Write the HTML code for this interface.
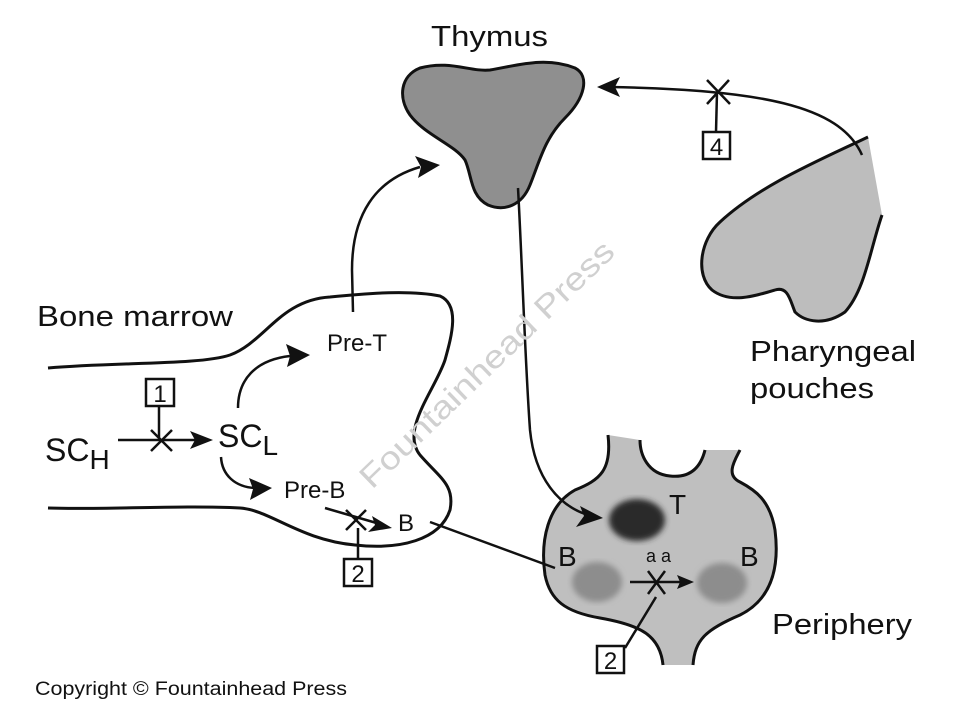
<!DOCTYPE html>
<html><head><meta charset="utf-8"><style>
html,body{margin:0;padding:0;background:#fff;}
svg{display:block;}
text{font-family:"Liberation Sans",sans-serif;fill:#111;}
</style></head><body>
<svg width="960" height="720" viewBox="0 0 960 720" xmlns="http://www.w3.org/2000/svg">
<defs>
<filter id="blur"><feGaussianBlur stdDeviation="3"/></filter>
</defs>

<text x="431" y="46" font-size="29" textLength="117" lengthAdjust="spacingAndGlyphs">Thymus</text>

<!-- Thymus -->
<path d="M420,68 C450,60 470,72 490,70 C515,66 545,56 575,68 C590,76 585,98 565,118 C545,138 540,160 530,185 C522,205 505,212 488,205 C470,196 472,175 465,160 C455,145 425,135 410,115 C398,98 400,76 420,68 Z" fill="#8f8f8f" stroke="#111" stroke-width="3"/>

<!-- Pharyngeal pouch -->
<path d="M868,137 L882,215 C870,250 865,290 845,312 C825,326 805,322 795,312 C790,300 788,286 775,290 C755,296 730,304 712,290 C695,275 700,240 720,222 C760,185 820,160 868,137 Z" fill="#bdbdbd"/>
<path d="M868,137 C820,160 760,185 720,222 C700,240 695,275 712,290 C730,304 755,296 775,290 C788,286 790,300 795,312 C805,322 825,326 845,312 C865,290 870,250 882,215" fill="none" stroke="#111" stroke-width="3"/>

<path d="M862,155 C840,105 760,90 610,87" fill="none" stroke="#111" stroke-width="2.5"/>
<path d="M597,87 L620,77 L615,87 L620,97 Z" fill="#111"/>
<path d="M707,80 L730,104 M729,80 L707,104" stroke="#111" stroke-width="2.5"/>
<line x1="717" y1="92" x2="716" y2="132" stroke="#111" stroke-width="2.5"/>
<rect x="703" y="132" width="27" height="27" fill="#fff" stroke="#111" stroke-width="2.5"/>
<text x="716.5" y="155" font-size="24" text-anchor="middle">4</text>

<!-- Periphery -->
<path d="M608,435 C612,470 600,480 575,490 C548,505 540,540 545,575 C550,600 565,612 600,618 C640,625 660,635 663,665 L693,665 C695,640 705,630 740,615 C770,600 780,570 775,530 C770,500 755,490 740,482 C725,475 735,460 740,450 L705,450 C700,470 688,478 670,476 C648,474 640,455 640,440 Z" fill="#bfbfbf"/>
<path d="M608,435 C612,470 600,480 575,490 C548,505 540,540 545,575 C550,600 565,612 600,618 C640,625 660,635 663,665" fill="none" stroke="#111" stroke-width="3"/>
<path d="M693,665 C695,640 705,630 740,615 C770,600 780,570 775,530 C770,500 755,490 740,482 C725,475 735,460 740,450" fill="none" stroke="#111" stroke-width="3"/>
<path d="M640,440 C640,455 648,474 670,476 C688,478 700,470 705,450" fill="none" stroke="#111" stroke-width="3"/>
<ellipse cx="637" cy="520" rx="28" ry="21" fill="#2a2a2a" filter="url(#blur)"/>
<ellipse cx="597" cy="582" rx="25" ry="20" fill="#8d8d8d" filter="url(#blur)"/>
<ellipse cx="722" cy="583" rx="25" ry="20" fill="#8d8d8d" filter="url(#blur)"/>
<text x="669" y="514" font-size="28">T</text>
<text x="558" y="566" font-size="28">B</text>
<text x="740" y="566" font-size="28">B</text>
<text x="646" y="562" font-size="18">a a</text>
<line x1="630" y1="582" x2="680" y2="582" stroke="#111" stroke-width="2.5"/>
<path d="M694,582 L677,575 L680,582 L677,589 Z" fill="#111"/>
<path d="M648,571 L665,594 M665,571 L648,594" stroke="#111" stroke-width="2.5"/>
<line x1="656" y1="597" x2="625" y2="648" stroke="#111" stroke-width="2.5"/>
<rect x="597" y="646" width="27" height="27" fill="#fff" stroke="#111" stroke-width="2.5"/>
<text x="610.5" y="669" font-size="24" text-anchor="middle">2</text>
<text x="772" y="634" font-size="29" textLength="140" lengthAdjust="spacingAndGlyphs">Periphery</text>

<path d="M518,188 C522,260 525,360 530,430 C535,480 560,505 585,514" fill="none" stroke="#111" stroke-width="2.5"/>
<path d="M603,518 L580,506 L584,516 L576,527 Z" fill="#111"/>

<!-- Bone marrow -->
<path d="M48,368 C120,362 200,365 230,355 C265,342 280,300 330,297 C370,293 410,290 440,296 C460,305 452,335 445,360 C435,390 400,430 420,455 C440,478 455,485 450,510 C440,540 400,550 355,545 C300,540 270,510 240,508 C180,505 100,510 48,508" fill="none" stroke="#111" stroke-width="3"/>
<text x="37" y="326" font-size="29" textLength="196" lengthAdjust="spacingAndGlyphs">Bone marrow</text>

<path d="M353,312 L352,270 C352,215 375,180 420,167" fill="none" stroke="#111" stroke-width="2.5"/>
<path d="M440,165 L415,156 L421,167 L418,178 Z" fill="#111"/>
<text x="327" y="351" font-size="24">Pre-T</text>

<text x="45" y="461" font-size="32">SC<tspan font-size="28" dy="8">H</tspan></text>
<line x1="118" y1="440" x2="195" y2="440" stroke="#111" stroke-width="2.5"/>
<path d="M213,440 L190,431 L195,440 L190,449 Z" fill="#111"/>
<path d="M151,430 L172,451 M172,430 L151,451" stroke="#111" stroke-width="2.5"/>
<line x1="159" y1="406" x2="159" y2="438" stroke="#111" stroke-width="2.5"/>
<rect x="146" y="379" width="28" height="27" fill="#fff" stroke="#111" stroke-width="2.5"/>
<text x="160" y="402" font-size="24" text-anchor="middle">1</text>
<text x="218" y="447" font-size="32">SC<tspan font-size="28" dy="8">L</tspan></text>

<path d="M238,408 C238,380 255,360 290,356" fill="none" stroke="#111" stroke-width="2.5"/>
<path d="M310,355 L286,344 L290,356 L287,367 Z" fill="#111"/>
<path d="M221,457 C222,475 235,487 255,488" fill="none" stroke="#111" stroke-width="2.5"/>
<path d="M272,488 L249,478 L253,489 L250,500 Z" fill="#111"/>
<text x="284" y="498" font-size="24">Pre-B</text>

<line x1="325" y1="508" x2="380" y2="524" stroke="#111" stroke-width="2.5"/>
<path d="M392,528 L372,516 L375,525 L368,532 Z" fill="#111"/>
<path d="M346,510 L366,530 M366,510 L346,530" stroke="#111" stroke-width="2.5"/>
<line x1="358" y1="528" x2="358" y2="560" stroke="#111" stroke-width="2.5"/>
<rect x="344" y="559" width="28" height="27" fill="#fff" stroke="#111" stroke-width="2.5"/>
<text x="358" y="582" font-size="24" text-anchor="middle">2</text>
<text x="398" y="531" font-size="24">B</text>
<line x1="430" y1="522" x2="555" y2="568" stroke="#111" stroke-width="2.5"/>

<text x="750" y="361" font-size="29" textLength="166" lengthAdjust="spacingAndGlyphs">Pharyngeal</text>
<text x="750" y="398" font-size="29" textLength="124" lengthAdjust="spacingAndGlyphs">pouches</text>

<text x="0" y="0" font-size="32" style="fill:#d0d0d0" transform="translate(372,490) rotate(-44)" textLength="340" lengthAdjust="spacingAndGlyphs">Fountainhead Press</text>

<text x="35" y="695" font-size="19" textLength="312" lengthAdjust="spacingAndGlyphs">Copyright © Fountainhead Press</text>
</svg>
</body></html>
